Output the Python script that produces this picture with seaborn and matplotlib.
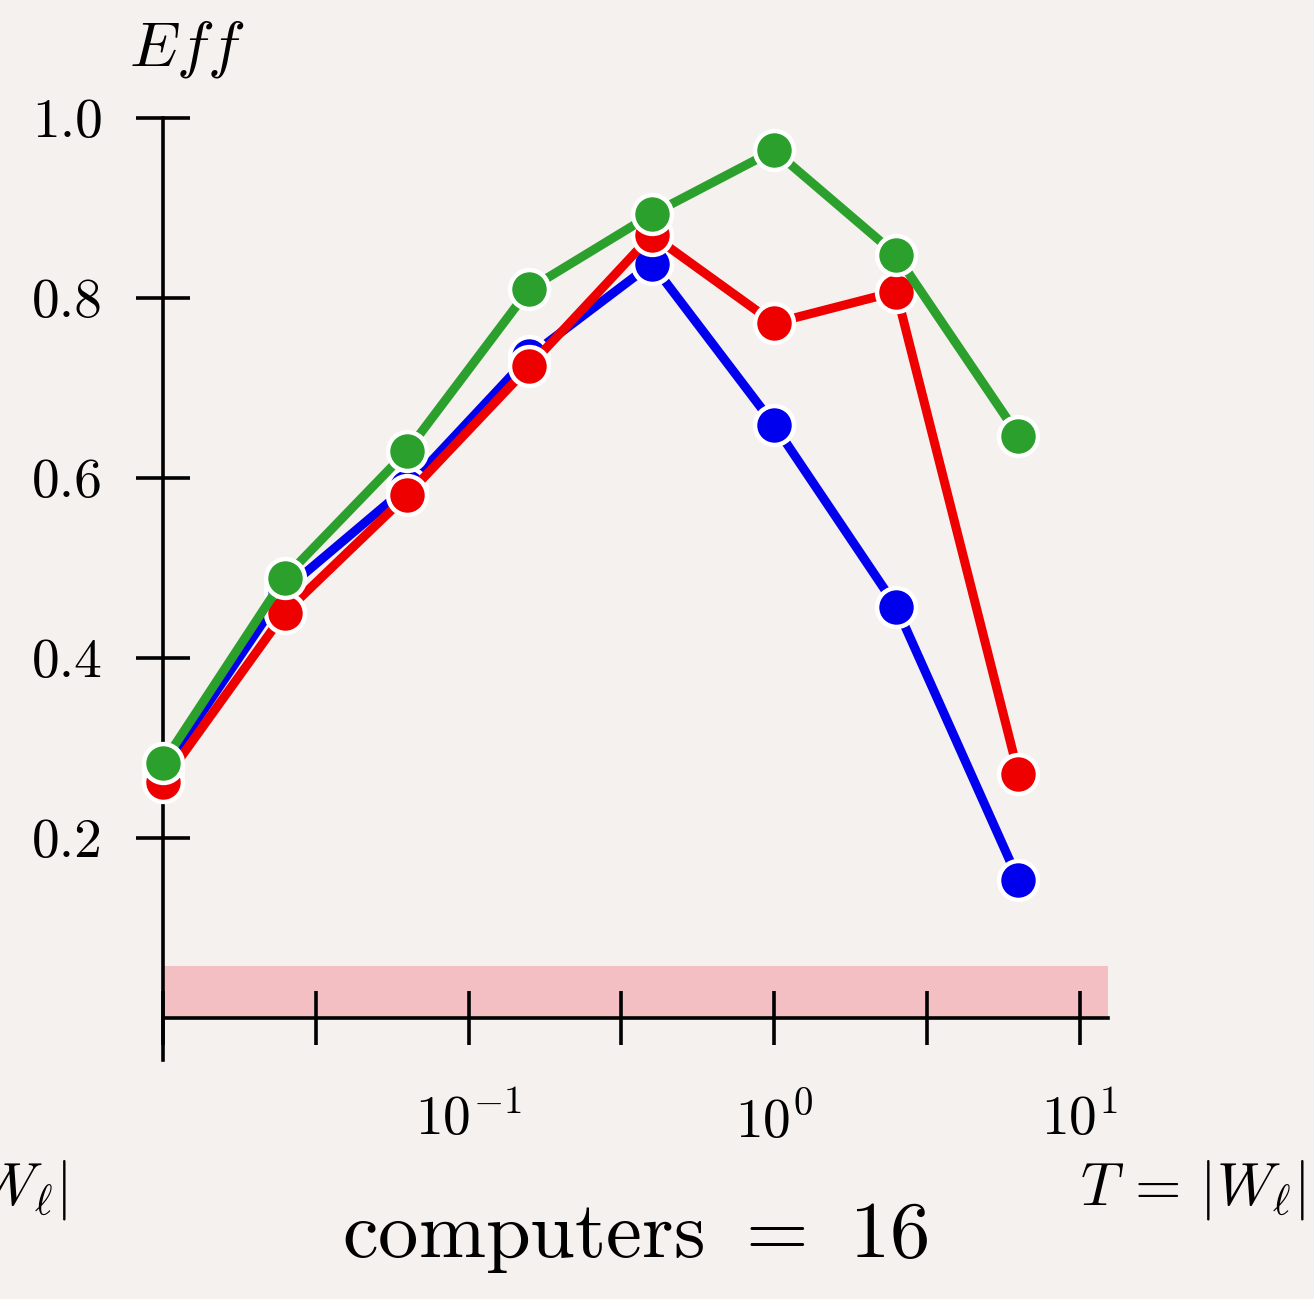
import matplotlib
matplotlib.use('Agg')
import matplotlib.pyplot as plt
import seaborn as sns
import numpy as np

# -----------------------------
# Data
# -----------------------------
T_values = [0.01, 0.025, 0.063, 0.158, 0.398, 1.0, 2.51, 6.31]
eff_blue = [0.275, 0.475, 0.59, 0.735, 0.838, 0.659, 0.457, 0.153]
eff_red = [0.262, 0.45, 0.581, 0.724, 0.87, 0.772, 0.807, 0.271]
eff_green = [0.283, 0.489, 0.63, 0.81, 0.893, 0.964, 0.848, 0.647]

x_ticks = [10 ** -2, 10 ** -1.5, 10 ** -1, 10 ** -0.5, 10 ** 0, 10 ** 0.5, 10 ** 1]
x_tick_labels = ["", "", r"$10^{-1}$", "", r"$10^{0}$", "", r"$10^{1}$"]
y_ticks = [0.2, 0.4, 0.6, 0.8, 1.0]
y_tick_labels = ["0.2", "0.4", "0.6", "0.8", "1.0"]

bg = "#f5f1ee"

sns.set_theme(style="white")
plt.rcParams['font.family'] = ['serif']
plt.rcParams['font.serif'] = ['cmr10', 'DejaVu Serif']
plt.rcParams['mathtext.fontset'] = 'cm'
plt.rcParams['axes.unicode_minus'] = False
plt.rcParams['text.color'] = 'black'

fig = plt.figure(figsize=(13.14, 12.99), dpi=100, facecolor=bg)
ax = fig.add_axes([163 / 1314, 1 - 1060 / 1299, (1108 - 163) / 1314, (1060 - 100) / 1299])
ax.set_facecolor(bg)

# pink band along the bottom
ax.axhspan(0, 0.058, color="#f4bfc3", zorder=0, lw=0)

for vals, col in [(eff_blue, "#0000ee"), (eff_red, "#ee0000"), (eff_green, "#2ca02c")]:
    sns.lineplot(x=T_values, y=vals, ax=ax, color=col, lw=6.5, marker="o",
                 markersize=28, markeredgecolor="white", markeredgewidth=3.2,
                 clip_on=False, zorder=3)

ax.set_xscale("log")
ax.set_xlim(0.01, 10 ** 1.093)
ax.set_ylim(-0.047, (1018 - 100) / 900)

for s in ["top", "right"]:
    ax.spines[s].set_visible(False)
ax.spines["bottom"].set_position(("data", 0))
ax.spines["left"].set_bounds(-0.047, 1.0)
for s in ["bottom", "left"]:
    ax.spines[s].set_linewidth(2.6)
    ax.spines[s].set_color("black")

ax.set_xticks(x_ticks)
ax.set_xticklabels(x_tick_labels)
ax.xaxis.set_minor_locator(matplotlib.ticker.NullLocator())
ax.set_yticks(y_ticks)
ax.set_yticklabels(y_tick_labels)
ax.tick_params(axis="both", which="major", bottom=True, left=True, direction="inout",
               length=39, width=2.6, color="black", labelsize=40, labelcolor="black")
ax.tick_params(axis="x", pad=35)
ax.tick_params(axis="y", pad=24)

fig.text(187 / 1314, 1 - 50 / 1299, r"$Eff$", fontsize=46, ha="center", va="center")
fig.text(1305 / 1314, 1 - 1190 / 1299, r"$T\,=\,|W_\ell|$", fontsize=43, ha="right", va="center")
fig.text(67 / 1314, 1 - 1190 / 1299, r"$T\,=\,|W_\ell|$", fontsize=43, ha="right", va="center")
fig.text(635 / 1314, 1 - 1238 / 1299, r"computers $=$ 16", fontsize=58, ha="center", va="center")

plt.savefig("out.png", dpi=100, facecolor=bg)
plt.close()
